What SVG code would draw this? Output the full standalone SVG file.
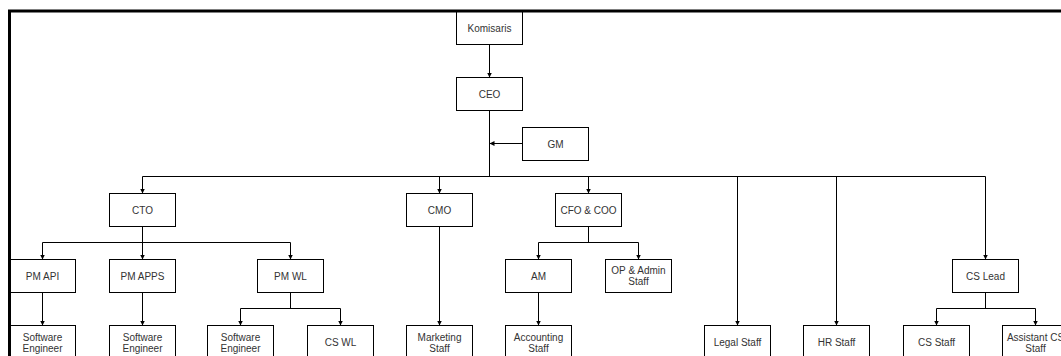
<svg xmlns="http://www.w3.org/2000/svg" width="1061" height="356" viewBox="0 0 1061 356">
<style>
.b{fill:#fff;stroke:#000;stroke-width:1}
.t{font-family:"Liberation Sans",Arial,sans-serif;font-size:10px;fill:#333;text-anchor:middle}
.c{fill:none;stroke:#000;stroke-width:1}
.a{marker-end:url(#ah)}
</style>
<defs>
<marker id="ah" markerUnits="userSpaceOnUse" markerWidth="6" markerHeight="6" refX="5" refY="2.5" orient="auto">
<path d="M0,0 L5,2.5 L0,5 z" fill="#000"/>
</marker>
</defs>
<rect x="0" y="0" width="1061" height="356" fill="#fff"/>
<g id="connectors">
<path class="c a" d="M489.5,44.5 V77.5"/>
<path class="c" d="M489.5,110.5 V176.5"/>
<path class="c a" d="M522.5,143.5 H489.5"/>
<path class="c" d="M142.5,176.5 H985.5"/>
<path class="c a" d="M142.5,176.5 V193.5"/>
<path class="c a" d="M439.5,176.5 V193.5"/>
<path class="c a" d="M588.5,176.5 V193.5"/>
<path class="c a" d="M737.5,176.5 V325.5"/>
<path class="c a" d="M836.5,176.5 V325.5"/>
<path class="c a" d="M985.5,176.5 V259.5"/>
<path class="c" d="M142.5,226.5 V242.5 M42.5,242.5 H290.5"/>
<path class="c a" d="M42.5,242.5 V259.5"/>
<path class="c a" d="M142.5,242.5 V259.5"/>
<path class="c a" d="M290.5,242.5 V259.5"/>
<path class="c a" d="M42.5,292.5 V325.5"/>
<path class="c a" d="M142.5,292.5 V325.5"/>
<path class="c" d="M290.5,292.5 V308.5 M240.5,308.5 H340.5"/>
<path class="c a" d="M240.5,308.5 V325.5"/>
<path class="c a" d="M340.5,308.5 V325.5"/>
<path class="c a" d="M439.5,226.5 V325.5"/>
<path class="c" d="M588.5,226.5 V242.5 M538.5,242.5 H638.5"/>
<path class="c a" d="M538.5,242.5 V259.5"/>
<path class="c a" d="M638.5,242.5 V259.5"/>
<path class="c a" d="M538.5,292.5 V325.5"/>
<path class="c" d="M985.5,292.5 V308.5 M936.5,308.5 H1035.5"/>
<path class="c a" d="M936.5,308.5 V325.5"/>
<path class="c a" d="M1035.5,308.5 V325.5"/>
</g>
<g id="komisaris"><rect class="b" x="456.5" y="11.5" width="66" height="33"/><text class="t" x="489.5" y="31.5">Komisaris</text></g>
<g id="ceo"><rect class="b" x="456.5" y="77.5" width="66" height="33"/><text class="t" x="489.5" y="97.5">CEO</text></g>
<g id="gm"><rect class="b" x="522.5" y="127.5" width="66" height="33"/><text class="t" x="555.5" y="147.5">GM</text></g>
<g id="cto"><rect class="b" x="109.5" y="193.5" width="66" height="33"/><text class="t" x="142.5" y="213.5">CTO</text></g>
<g id="cmo"><rect class="b" x="406.5" y="193.5" width="66" height="33"/><text class="t" x="439.5" y="213.5">CMO</text></g>
<g id="cfo"><rect class="b" x="555.5" y="193.5" width="66" height="33"/><text class="t" x="588.5" y="213.5">CFO &amp; COO</text></g>
<g id="pmapi"><rect class="b" x="9.5" y="259.5" width="66" height="33"/><text class="t" x="42.5" y="279.5">PM API</text></g>
<g id="pmapps"><rect class="b" x="109.5" y="259.5" width="66" height="33"/><text class="t" x="142.5" y="279.5">PM APPS</text></g>
<g id="pmwl"><rect class="b" x="257.5" y="259.5" width="66" height="33"/><text class="t" x="290.5" y="279.5">PM WL</text></g>
<g id="am"><rect class="b" x="505.5" y="259.5" width="66" height="33"/><text class="t" x="538.5" y="279.5">AM</text></g>
<g id="opadmin"><rect class="b" x="605.5" y="259.5" width="66" height="33"/><text class="t" x="638.5" y="274">OP &amp; Admin</text><text class="t" x="638.5" y="285">Staff</text></g>
<g id="cslead"><rect class="b" x="952.5" y="259.5" width="66" height="33"/><text class="t" x="985.5" y="279.5">CS Lead</text></g>
<g id="se1"><rect class="b" x="9.5" y="325.5" width="66" height="33"/><text class="t" x="42.5" y="340.5">Software</text><text class="t" x="42.5" y="351.5">Engineer</text></g>
<g id="se2"><rect class="b" x="109.5" y="325.5" width="66" height="33"/><text class="t" x="142.5" y="340.5">Software</text><text class="t" x="142.5" y="351.5">Engineer</text></g>
<g id="se3"><rect class="b" x="207.5" y="325.5" width="66" height="33"/><text class="t" x="240.5" y="340.5">Software</text><text class="t" x="240.5" y="351.5">Engineer</text></g>
<g id="cswl"><rect class="b" x="307.5" y="325.5" width="66" height="33"/><text class="t" x="340.5" y="345.5">CS WL</text></g>
<g id="marketing"><rect class="b" x="406.5" y="325.5" width="66" height="33"/><text class="t" x="439.5" y="340.5">Marketing</text><text class="t" x="439.5" y="351.5">Staff</text></g>
<g id="accounting"><rect class="b" x="505.5" y="325.5" width="66" height="33"/><text class="t" x="538.5" y="340.5">Accounting</text><text class="t" x="538.5" y="351.5">Staff</text></g>
<g id="legal"><rect class="b" x="704.5" y="325.5" width="66" height="33"/><text class="t" x="737.5" y="345.5">Legal Staff</text></g>
<g id="hr"><rect class="b" x="803.5" y="325.5" width="66" height="33"/><text class="t" x="836.5" y="345.5">HR Staff</text></g>
<g id="csstaff"><rect class="b" x="903.5" y="325.5" width="66" height="33"/><text class="t" x="936.5" y="345.5">CS Staff</text></g>
<g id="assistantcs"><rect class="b" x="1002.5" y="325.5" width="66" height="33"/><text class="t" x="1035.5" y="340.5">Assistant CS</text><text class="t" x="1035.5" y="351.5">Staff</text></g>
<rect id="frame" x="9.5" y="11" width="1100" height="400" fill="none" stroke="#000" stroke-width="3"/>
</svg>
